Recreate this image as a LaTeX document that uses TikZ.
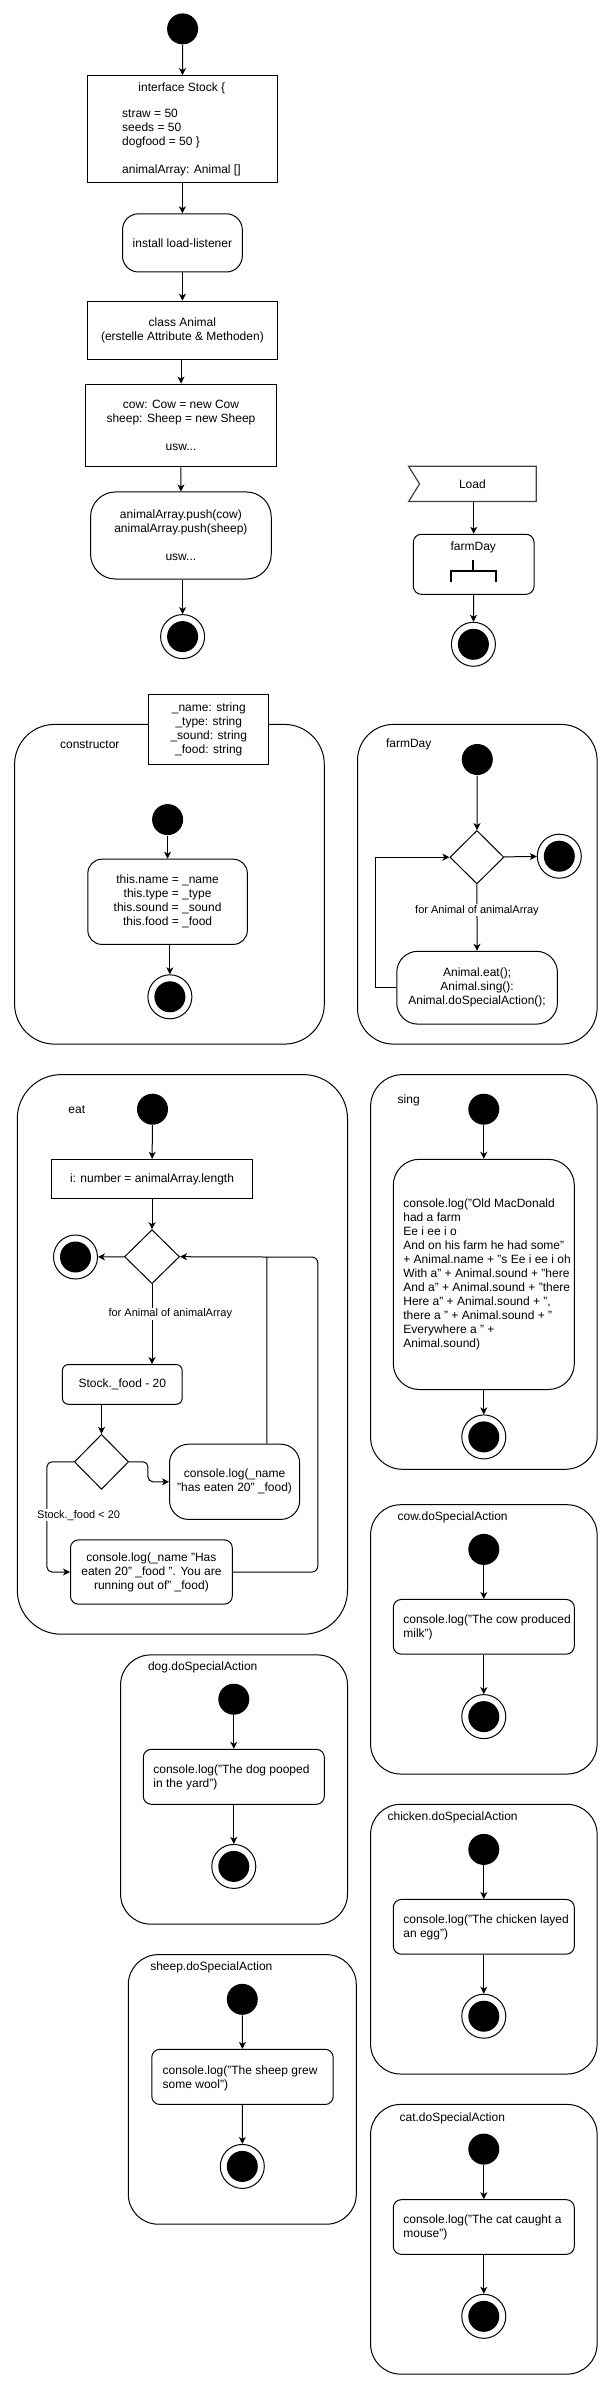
\documentclass[tikz,border=0pt]{standalone}
\usepackage{fontspec}
\setmainfont{Liberation Sans}
\usetikzlibrary{arrows.meta,calc,shapes.geometric}
\begin{document}
\begin{tikzpicture}[x=1pt,y=-1pt,line width=1pt,
  every node/.style={font=\fontsize{12}{14}\selectfont, inner sep=0pt},
  arr/.style={-{Stealth[length=7pt,width=7pt,inset=2pt]}},
  box/.style={draw, rectangle},
  rbox/.style={draw, rectangle, rounded corners=#1},
  rbox/.default=8pt,
  start/.style={circle, fill=black, minimum size=31pt, inner sep=0pt},
  endst/.style={circle, draw, fill=white, minimum size=44pt, inner sep=0pt,
    path picture={\fill[black] (path picture bounding box.center) circle (15.5pt);}},
  dia/.style={diamond, draw, inner sep=0pt},
  lbl/.style={fill=white, font=\fontsize{11}{13}\selectfont, inner sep=1pt},
  lefttxt/.style={anchor=west, align=left}
]
\useasboundingbox (0,0) rectangle (604,2381);

% ---------------- main flow ----------------
\node[start] (s0) at (182.6,28.9) {};
\node[box, minimum width=190pt, minimum height=106.7pt] (stock) at (182.4,128.9) {};
\node (stockh) at (181.8,88.6) {interface Stock \{};
\node[lefttxt] (stockb) at (121.7,142.8) {straw = 50\\seeds = 50\\dogfood = 50 \}\\[14pt]animalArray: Animal []};
\node[rbox=16pt, minimum width=119.8pt, minimum height=58.2pt] (install) at (182.4,242.9) {install load-listener};
\node[box, minimum width=190pt, minimum height=58.6pt, align=center] (cls) at (182.4,330.5) {class Animal\\(erstelle Attribute \& Methoden)};
\node[box, minimum width=190.3pt, minimum height=82.9pt, align=center] (inst) at (181,425.5) {cow: Cow = new Cow\\sheep: Sheep = new Sheep\\[14pt]usw...};
\node[rbox=25pt, minimum width=180.7pt, minimum height=87.1pt, align=center] (push) at (180.9,535.5) {animalArray.push(cow)\\animalArray.push(sheep)\\[14pt]usw...};
\node[endst] (e0) at (182.6,636.6) {};

\draw[arr] (s0) -- (stock);
\draw[arr] (stock) -- (install);
\draw[arr] (install) -- (cls);
\draw[arr] (inst.north |- cls.south) -- (inst.north);
\draw[arr] (inst) -- (push);
\draw[arr] (e0 |- push.south) -- (e0);

% ---------------- load / farmDay ----------------
\node[minimum width=126.7pt, minimum height=34.3pt] (load) at (472.4,483.9) {Load};
\draw[black!75, line width=1.2pt] (load.north west) -- (load.north east) -- (load.south east) -- (load.south west) -- ($(load.west)+(11,0)$) -- cycle;
\node[rbox=8pt, minimum width=120.7pt, minimum height=60pt] (fdm) at (473.7,564.3) {};
\node (fdmt) at (473.3,547.7) {farmDay};
\draw[line width=2pt] (473.3,560) -- (473.3,570.7);
\draw[line width=2pt] (451,581.7) -- (451,570.7) -- (496.3,570.7) -- (496.3,581.7);
\node[endst] (e1) at (473.4,644.3) {};
\draw[arr] (fdm.north |- load.south) -- (fdm.north);
\draw[arr] (fdm) -- (e1);

% ---------------- constructor ----------------
\node[rbox=40pt, minimum width=309.7pt, minimum height=319.7pt] (ctor) at (169.45,884.25) {};
\node (ctorl) at (89.8,744.8) {constructor};
\node[box, fill=white, minimum width=120.2pt, minimum height=70.5pt, align=center] (params) at (208.8,729.3) {\_name: string\\\_type: string\\\_sound: string\\\_food: string};
\node[start] (cs) at (167.6,819.6) {};
\node[rbox=14pt, minimum width=159.5pt, minimum height=85.2pt, align=center] (cbody) at (167.6,901.8) {this.name = \_name\\this.type = \_type\\this.sound = \_sound\\this.food = \_food};
\node[endst] (ce) at (169.9,996.8) {};
\draw[arr] (cs) -- (cbody);
\draw[arr] (ce |- cbody.south) -- (ce);

% ---------------- farmDay ----------------
\node[rbox=36pt, minimum width=239.6pt, minimum height=319.7pt] (fday) at (477.3,884.25) {};
\node (fdayl) at (408.7,744.8) {farmDay};
\node[start] (fs) at (477.3,759.5) {};
\node[dia, minimum width=54pt, minimum height=53.5pt] (fd) at (476.9,857.2) {};
\node[endst] (fe) at (559.3,856.2) {};
\node[rbox=21pt, minimum width=160.6pt, minimum height=72.8pt, align=center] (fbody) at (477.1,987.7) {Animal.eat();\\Animal.sing():\\Animal.doSpecialAction();};
\draw[arr] (fs) -- (fd);
\draw[arr] (fd) -- (fe);
\draw[arr] (fd) -- node[lbl, pos=0.39] (fdl) {for Animal of animalArray} (fbody);
\draw[arr] (fbody.west) -- ++(-20.5,0) |- (fd.west);

% ---------------- eat ----------------
\node[rbox=44pt, minimum width=330.2pt, minimum height=559.6pt] (eat) at (182.4,1354.4) {};
\node (eatl) at (76.8,1109.2) {eat};
\node[start] (es) at (152.5,1109.2) {};
\node[box, minimum width=201.5pt, minimum height=39.2pt] (ibox) at (152,1178.9) {i: number = animalArray.length};
\node[dia, minimum width=55pt, minimum height=54pt] (ed) at (152,1256.7) {};
\node[endst] (ee) at (75.5,1257) {};
\node[rbox=6pt, minimum width=119.8pt, minimum height=39.7pt] (sbox) at (122.3,1384.4) {Stock.\_food - 20};
\node[dia, minimum width=54.3pt, minimum height=55pt] (ed2) at (101.5,1461.8) {};
\node[rbox=19pt, minimum width=130.2pt, minimum height=75.2pt, align=center] (eaten1) at (234.6,1481.8) {console.log(\_name\\"has eaten 20" \_food)};
\node[rbox=8pt, minimum width=161.8pt, minimum height=64.3pt, align=center] (eaten2) at (151.4,1572) {console.log(\_name "Has\\eaten 20" \_food ". You are\\running out of" \_food)};
\coordinate (j1) at (266.9,1257);
\coordinate (j2) at (317.8,1257);
\draw[arr] (es) -- (ibox);
\draw[arr] (ibox) -- (ed);
\draw[arr] (ed) -- (ee);
\draw[arr] (ed.south) -- (ed.south |- sbox.north);
\node[lbl] (edl) at (170.3,1314) {for Animal of animalArray};
\draw[arr] (ed2.north |- sbox.south) -- (ed2.north);
\draw[arr, rounded corners=5pt] (ed2.east) -- ++(18.8,0) |- (eaten1.west);
\draw[arr] (eaten1.north -| j1) -- (j1) -- (ed.east);
\draw[rounded corners=6pt] (eaten2.east) -| (j2) -- (j1);
\draw[arr, rounded corners=5pt] (ed2.west) -- ++(-26.9,0) |- (eaten2.west);
\node[lbl] (edl2) at (78.6,1515.1) {Stock.\_food < 20};

% ---------------- sing ----------------
\node[rbox=32pt, minimum width=226.5pt, minimum height=394.7pt] (sing) at (483.85,1271.95) {};
\node (singl) at (408.7,1100) {sing};
\node[start] (ss) at (483.8,1109.2) {};
\node[rbox=26pt, minimum width=181pt, minimum height=230.2pt] (sbody) at (483.8,1274.4) {};
\node[lefttxt] (sbodyt) at (402.9,1274.6) {console.log("Old MacDonald\\had a farm\\Ee i ee i o\\And on his farm he had some"\\+ Animal.name + "s Ee i ee i oh\\With a" + Animal.sound + "here\\And a" + Animal.sound + "there\\Here a" + Animal.sound + ",\\there a " + Animal.sound + "\\Everywhere a " +\\Animal.sound)};
\node[endst] (se) at (483.8,1436.9) {};
\draw[arr] (ss) -- (sbody);
\draw[arr] (sbody) -- (se);

% ---------------- cow ----------------
\node[rbox=30pt, minimum width=226.5pt, minimum height=269.3pt] (cow) at (483.85,1639.35) {};
\node[anchor=west] (cowl) at (397.1,1517.8) {cow.doSpecialAction};
\node[start] (cows) at (483.8,1549.4) {};
\node[rbox=8pt, minimum width=181pt, minimum height=54.7pt] (cowb) at (483.8,1626.8) {};
\node[lefttxt] (cowt) at (402.9,1627.8) {console.log("The cow produced\\milk")};
\node[endst] (cowe) at (483.8,1716.6) {};
\draw[arr] (cows) -- (cowb);
\draw[arr] (cowb) -- (cowe);

% ---------------- dog ----------------
\node[rbox=30pt, minimum width=226.9pt, minimum height=269.2pt] (dog) at (234.05,1789.5) {};
\node[anchor=west] (dogl) at (147.5,1667.7) {dog.doSpecialAction};
\node[start] (dogs) at (233.8,1699.2) {};
\node[rbox=8pt, minimum width=181pt, minimum height=55pt] (dogb) at (233.8,1776.8) {};
\node[lefttxt] (dogt) at (152.9,1777.8) {console.log("The dog pooped\\in the yard")};
\node[endst] (doge) at (233.8,1866.4) {};
\draw[arr] (dogs) -- (dogb);
\draw[arr] (dogb) -- (doge);

% ---------------- sheep ----------------
\node[rbox=30pt, minimum width=228pt, minimum height=269.6pt] (sheep) at (242.3,2089.4) {};
\node[anchor=west] (sheepl) at (149.8,1967.7) {sheep.doSpecialAction};
\node[start] (sheeps) at (242.3,1999.3) {};
\node[rbox=8pt, minimum width=181.4pt, minimum height=55.1pt] (sheepb) at (242.5,2076.9) {};
\node[lefttxt] (sheept) at (162.2,2077.9) {console.log("The sheep grew\\some wool")};
\node[endst] (sheepe) at (242.3,2166.4) {};
\draw[arr] (sheeps) -- (sheepb);
\draw[arr] (sheepb) -- (sheepe);

% ---------------- chicken ----------------
\node[rbox=30pt, minimum width=226.5pt, minimum height=269.7pt] (chick) at (483.85,1939.15) {};
\node[anchor=west] (chickl) at (387.1,1817.8) {chicken.doSpecialAction};
\node[start] (chicks) at (483.8,1849.4) {};
\node[rbox=8pt, minimum width=181pt, minimum height=54.7pt] (chickb) at (483.8,1926.8) {};
\node[lefttxt] (chickt) at (402.9,1927.8) {console.log("The chicken layed\\an egg")};
\node[endst] (chicke) at (483.8,2016.2) {};
\draw[arr] (chicks) -- (chickb);
\draw[arr] (chickb) -- (chicke);

% ---------------- cat ----------------
\node[rbox=30pt, minimum width=226.5pt, minimum height=269.7pt] (cat) at (483.85,2239.25) {};
\node[anchor=west] (catl) at (399.1,2117.9) {cat.doSpecialAction};
\node[start] (cats) at (483.8,2149.1) {};
\node[rbox=8pt, minimum width=181pt, minimum height=54.7pt] (catb) at (483.8,2227) {};
\node[lefttxt] (catt) at (402.9,2227.7) {console.log("The cat caught a\\mouse")};
\node[endst] (cate) at (483.8,2316.3) {};
\draw[arr] (cats) -- (catb);
\draw[arr] (catb) -- (cate);
\end{tikzpicture}
\end{document}
